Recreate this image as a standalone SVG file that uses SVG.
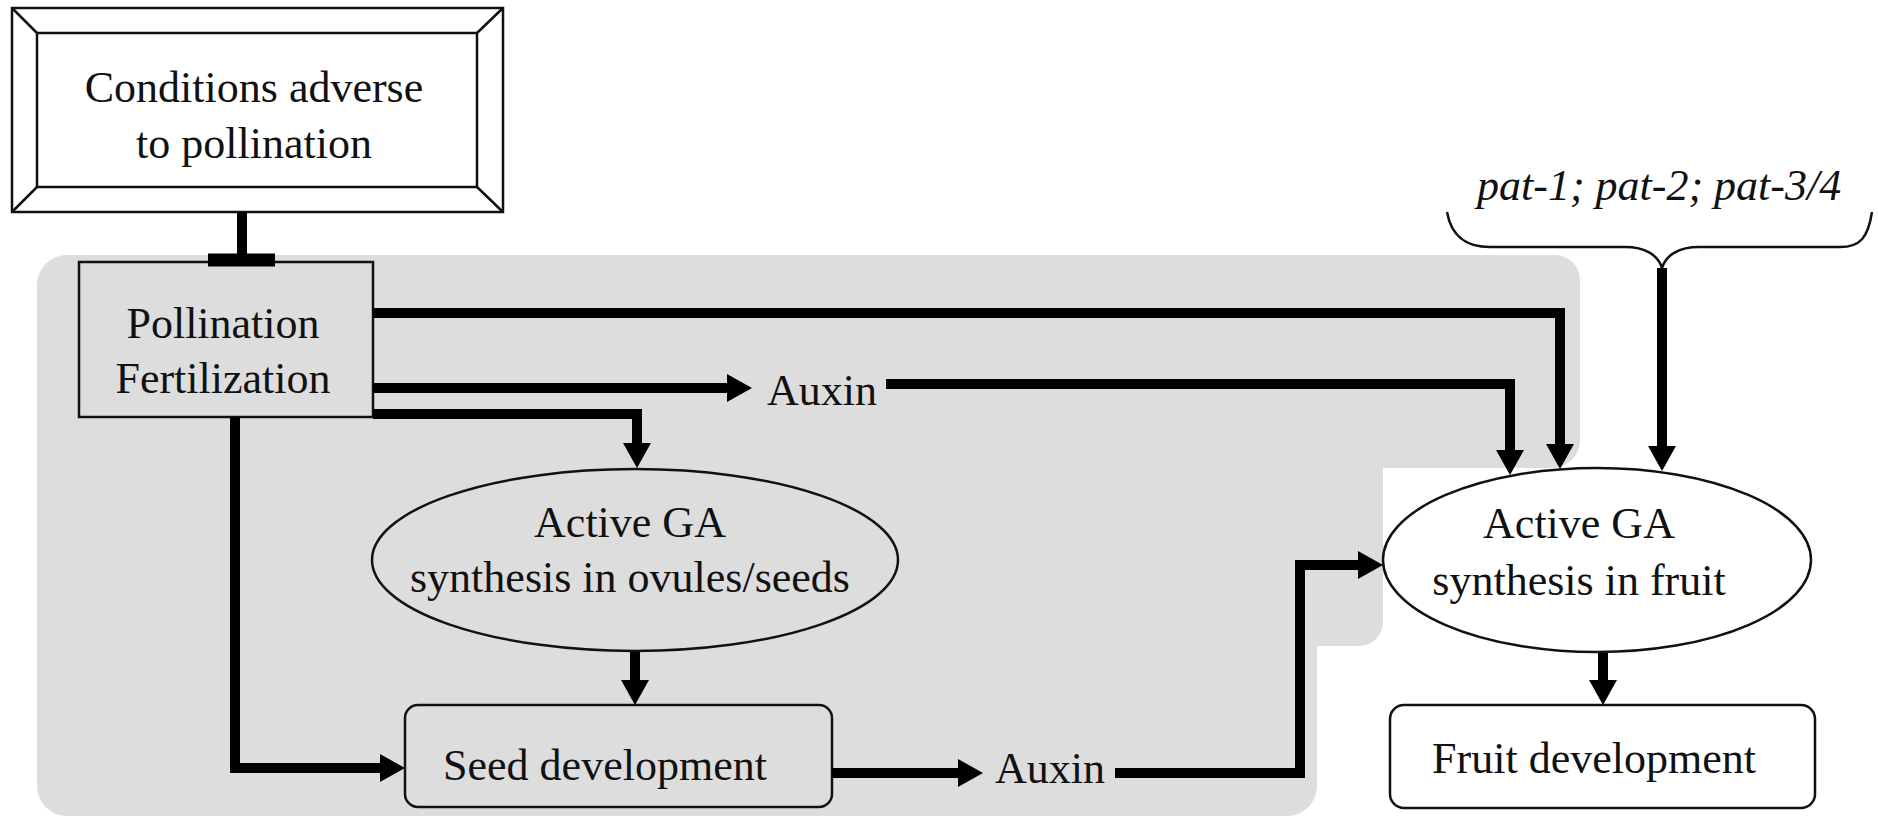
<svg xmlns="http://www.w3.org/2000/svg" width="1878" height="821" viewBox="0 0 1878 821">
<defs>
<style>
.t{font-family:"Liberation Serif","Times New Roman",serif;font-size:44px;fill:#111}
.i{font-style:italic}
.n{stroke:#111;stroke-width:2.5}
.c{fill:none;stroke:#000;stroke-width:10}
</style>
<marker id="ah" markerUnits="userSpaceOnUse" markerWidth="26" markerHeight="28" refX="1" refY="14" orient="auto">
<path d="M0,0 L25,14 L0,28 Z" fill="#000"/>
</marker>
</defs>
<rect width="1878" height="821" fill="#fff"/>
<g id="background">
<path d="M67,255 H1555 A25,25 0 0 1 1580,280 V440 A28,28 0 0 1 1552,468 H1383 V622 A24,24 0 0 1 1359,646 H1317 V786 A30,30 0 0 1 1287,816 H67 A30,30 0 0 1 37,786 V285 A30,30 0 0 1 67,255 Z" fill="#dddddd"/>
</g>
<g id="conditions">
<rect x="12" y="8" width="491" height="204" fill="#fff" class="n"/>
<rect x="37" y="33" width="440" height="154" fill="none" class="n"/>
<path d="M12,8 L37,33 M503,8 L477,33 M12,212 L37,187 M503,212 L477,187" class="n"/>
<text class="t" x="254" y="102" text-anchor="middle">Conditions adverse</text>
<text class="t" x="254" y="158" text-anchor="middle">to pollination</text>
</g>
<g id="pollination">
<rect x="79" y="262" width="294" height="155" fill="#dddddd" class="n"/>
<text class="t" x="223" y="338" text-anchor="middle">Pollination</text>
<text class="t" x="223" y="393" text-anchor="middle">Fertilization</text>
</g>
<g id="auxin1">
<text class="t" x="767" y="405">Auxin</text>
</g>
<g id="ga-ovules">
<ellipse cx="635" cy="560" rx="263" ry="91" fill="#dddddd" class="n"/>
<text class="t" x="630" y="537" text-anchor="middle">Active GA</text>
<text class="t" x="630" y="592" text-anchor="middle">synthesis in ovules/seeds</text>
</g>
<g id="seed-development">
<rect x="405" y="705" width="427" height="102" rx="13" fill="#dddddd" class="n"/>
<text class="t" x="605" y="780" text-anchor="middle">Seed development</text>
</g>
<g id="auxin2">
<text class="t" x="995" y="783">Auxin</text>
</g>
<g id="pat-genes">
<text class="t i" x="1477" y="200">pat-1; pat-2; pat-3/4</text>
<path d="M1447,212 C1452,240 1470,247 1490,247 H1625 C1645,247 1658,255 1662,268 C1666,255 1679,247 1699,247 H1840 C1860,247 1868,238 1872,212" fill="none" stroke="#111" stroke-width="2.5"/>
</g>
<g id="ga-fruit">
<ellipse cx="1597" cy="560" rx="214" ry="92" fill="#fff" class="n"/>
<text class="t" x="1579" y="538" text-anchor="middle">Active GA</text>
<text class="t" x="1579" y="595" text-anchor="middle">synthesis in fruit</text>
</g>
<g id="fruit-development">
<rect x="1390" y="705" width="425" height="103" rx="14" fill="#fff" class="n"/>
<text class="t" x="1594" y="773" text-anchor="middle">Fruit development</text>
</g>
<g id="connectors">
<path d="M242,212 V256" class="c"/>
<path d="M208,260 H275" fill="none" stroke="#000" stroke-width="13"/>
<path d="M373,313 H1560 V445" class="c" marker-end="url(#ah)"/>
<path d="M373,388 H728" class="c" marker-end="url(#ah)"/>
<path d="M886,384 H1510 V451" class="c" marker-end="url(#ah)"/>
<path d="M373,414 H637 V444" class="c" marker-end="url(#ah)"/>
<path d="M635,652 V681" class="c" marker-end="url(#ah)"/>
<path d="M235,417 V768 H381" class="c" marker-end="url(#ah)"/>
<path d="M832,773 H959" class="c" marker-end="url(#ah)"/>
<path d="M1115,773 H1300 V565 H1359" class="c" marker-end="url(#ah)"/>
<path d="M1662,268 V447" class="c" marker-end="url(#ah)"/>
<path d="M1603,653 V681" class="c" marker-end="url(#ah)"/>
</g>
</svg>
